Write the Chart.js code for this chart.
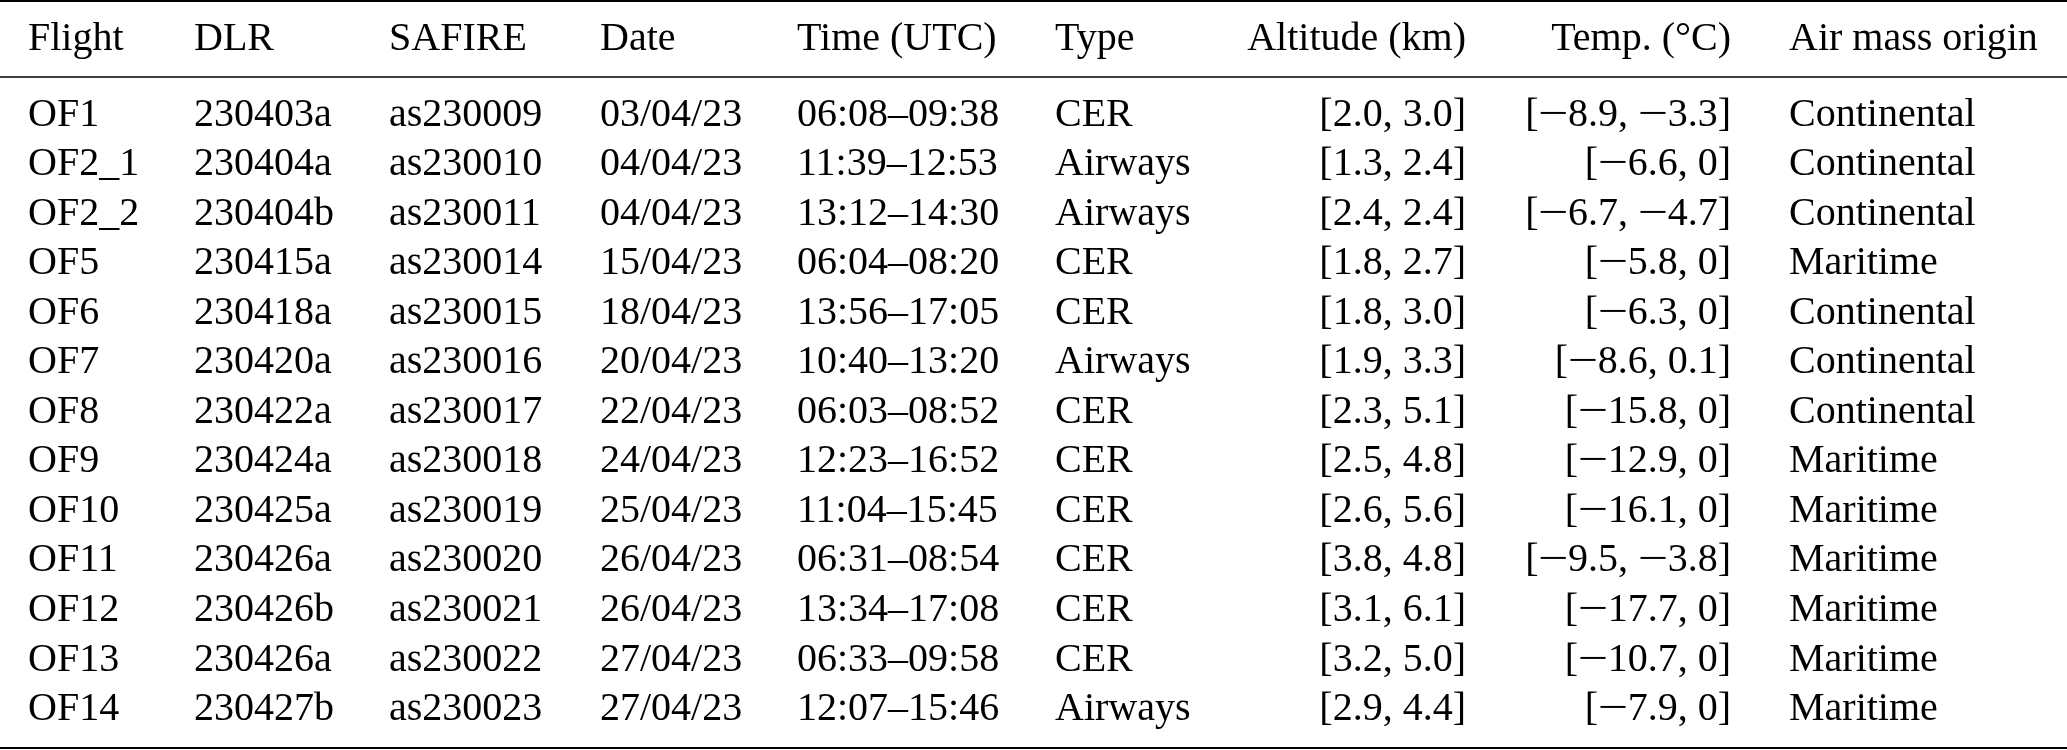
<!DOCTYPE html>
<html>
<head>
<meta charset="utf-8">
<script src="https://cdn.jsdelivr.net/npm/chart.js@4.4.1/dist/chart.umd.min.js"></script>
<style>
  html, body { margin: 0; padding: 0; background: #ffffff; }
  #wrap { width: 2067px; height: 750px; }
</style>
</head>
<body>
<div id="wrap"><canvas id="c" width="2067" height="750"></canvas></div>
<script>
// ---------- DATA ----------
const headers = ['Flight', 'DLR', 'SAFIRE', 'Date', 'Time (UTC)', 'Type', 'Altitude (km)', 'Temp. (°C)', 'Air mass origin'];
const flights = ['OF1', 'OF2_1', 'OF2_2', 'OF5', 'OF6', 'OF7', 'OF8', 'OF9', 'OF10', 'OF11', 'OF12', 'OF13', 'OF14'];
const dlrIds = ['230403a', '230404a', '230404b', '230415a', '230418a', '230420a', '230422a', '230424a', '230425a', '230426a', '230426b', '230426a', '230427b'];
const safireIds = ['as230009', 'as230010', 'as230011', 'as230014', 'as230015', 'as230016', 'as230017', 'as230018', 'as230019', 'as230020', 'as230021', 'as230022', 'as230023'];
const dates = ['03/04/23', '04/04/23', '04/04/23', '15/04/23', '18/04/23', '20/04/23', '22/04/23', '24/04/23', '25/04/23', '26/04/23', '26/04/23', '27/04/23', '27/04/23'];
const times = ['06:08–09:38', '11:39–12:53', '13:12–14:30', '06:04–08:20', '13:56–17:05', '10:40–13:20', '06:03–08:52', '12:23–16:52', '11:04–15:45', '06:31–08:54', '13:34–17:08', '06:33–09:58', '12:07–15:46'];
const types = ['CER', 'Airways', 'Airways', 'CER', 'CER', 'Airways', 'CER', 'CER', 'CER', 'CER', 'CER', 'CER', 'Airways'];
const altMin = [2.0, 1.3, 2.4, 1.8, 1.8, 1.9, 2.3, 2.5, 2.6, 3.8, 3.1, 3.2, 2.9];
const altMax = [3.0, 2.4, 2.4, 2.7, 3.0, 3.3, 5.1, 4.8, 5.6, 4.8, 6.1, 5.0, 4.4];
const tempMin = [-8.9, -6.6, -6.7, -5.8, -6.3, -8.6, -15.8, -12.9, -16.1, -9.5, -17.7, -10.7, -7.9];
const tempMax = [-3.3, 0, -4.7, 0, 0, 0.1, 0, 0, 0, -3.8, 0, 0, 0];
const origins = ['Continental', 'Continental', 'Continental', 'Maritime', 'Continental', 'Continental', 'Continental', 'Maritime', 'Maritime', 'Maritime', 'Maritime', 'Maritime', 'Maritime'];

// ---------- LAYOUT (positions / styles, separate from data) ----------
const layout = {
  colAnchor: [28, 194, 389, 600, 797, 1055, 1466, 1731, 1789],   // x-scale values
  colAlign: ['left', 'left', 'left', 'left', 'left', 'left', 'right', 'right', 'left'],
  headerRow: -1.535,            // y-scale value of header baseline
  rules: [ { y: -2.525, w: 2.2 }, { y: -0.99, w: 1.4 }, { y: 12.566, w: 2.2 } ],
  font: '40px "Liberation Serif", "Times New Roman", serif',
  color: '#000000',
  minusAdvance: 0.74,   // em, math-style minus
  minusStretch: 1.35
};
const FONT_PX = 40;

function fmtNum(v) {
  if (v === 0) return '0';
  return v.toFixed(1).replace('-', '−');
}
function fmtRange(a, b, fixedBoth) {
  if (fixedBoth) return '[' + a.toFixed(1) + ', ' + b.toFixed(1) + ']';
  return '[' + fmtNum(a) + ', ' + fmtNum(b) + ']';
}

const rows = flights.map((f, i) => [
  f, dlrIds[i], safireIds[i], dates[i], times[i], types[i],
  fmtRange(altMin[i], altMax[i], true),
  fmtRange(tempMin[i], tempMax[i], false),
  origins[i]
]);

// draw a cell; math minus signs are rendered wider, as in TeX
function drawCell(ctx, text, x, y, align) {
  const parts = text.split('−');
  const mAdv = layout.minusAdvance * FONT_PX;
  let total = 0;
  parts.forEach((p, i) => { total += ctx.measureText(p).width; if (i < parts.length - 1) total += mAdv; });
  let cx = align === 'right' ? x - total : x;
  ctx.textAlign = 'left';
  parts.forEach((p, i) => {
    ctx.fillText(p, cx, y);
    cx += ctx.measureText(p).width;
    if (i < parts.length - 1) {
      ctx.save();
      ctx.translate(cx + mAdv / 2, y);
      ctx.scale(layout.minusStretch, 1);
      ctx.textAlign = 'center';
      ctx.fillText('−', 0, 0);
      ctx.restore();
      cx += mAdv;
    }
  });
}

const tablePlugin = {
  id: 'tablePlugin',
  afterDraw(chart) {
    const ctx = chart.ctx;
    const xs = chart.scales.x, ys = chart.scales.y;
    ctx.save();
    ctx.fillStyle = layout.color;
    ctx.strokeStyle = layout.color;
    layout.rules.forEach(r => {
      const py = ys.getPixelForValue(r.y);
      ctx.lineWidth = r.w;
      ctx.beginPath();
      ctx.moveTo(xs.getPixelForValue(xs.min), py);
      ctx.lineTo(xs.getPixelForValue(xs.max), py);
      ctx.stroke();
    });
    ctx.font = layout.font;
    ctx.textBaseline = 'alphabetic';
    const hy = ys.getPixelForValue(layout.headerRow);
    headers.forEach((h, c) => {
      drawCell(ctx, h, xs.getPixelForValue(layout.colAnchor[c]), hy, layout.colAlign[c]);
    });
    rows.forEach((row, r) => {
      const py = ys.getPixelForValue(r);
      row.forEach((cell, c) => {
        drawCell(ctx, cell, xs.getPixelForValue(layout.colAnchor[c]), py, layout.colAlign[c]);
      });
    });
    ctx.restore();
  }
};

new Chart(document.getElementById('c'), {
  type: 'scatter',
  data: { datasets: [{ data: [], pointRadius: 0 }] },
  options: {
    responsive: false,
    devicePixelRatio: 1,
    animation: false,
    layout: { padding: 0 },
    plugins: { legend: { display: false }, tooltip: { enabled: false } },
    scales: {
      x: { type: 'linear', min: 0, max: 2067, display: false },
      y: { type: 'linear', min: -2.545, max: 12.606, reverse: true, display: false }
    }
  },
  plugins: [tablePlugin]
});
</script>
</body>
</html>
